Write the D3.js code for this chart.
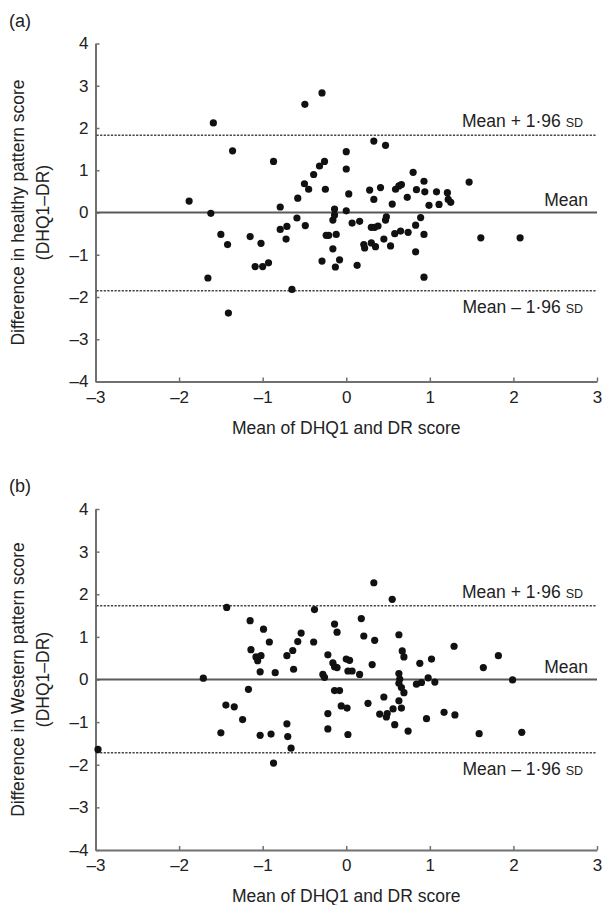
<!DOCTYPE html>
<meta charset="utf-8">
<meta name="viewport" content="width=device-width, initial-scale=1.0">

<!-- Load d3.js -->
<script src="https://d3js.org/d3.v7.min.js"></script>

<!-- Create a div where the graph will take place -->
<div id="my_dataviz"></div>

<style>
  body {
    margin:0;
    background:#fff;
  }
  text {
    font-family: "Liberation Sans", Arial, Helvetica, sans-serif;
    fill: #222;
  }
</style>

<script>

  var svgWidth = 602, svgHeight = 905;

  const xTicks = [-3, -2, -1, 0, 1, 2, 3];
  const yTicks = [-4, -3, -2, -1, 0, 1, 2, 3, 4];
  const panelLetters = ["(a)", "(b)"];
  const yTitles = ["Difference in healthy pattern score", "Difference in Western pattern score"];
  const yTitleSub = "(DHQ1–DR)";
  const xTitle = "Mean of DHQ1 and DR score";

  // [mean of both methods, difference]
  const healthyPoints = [
    [-1.88, 0.27], [-1.62, -0.02], [-1.59, 2.12], [-1.655, -1.55], [-1.50, -0.52], [-1.42, -0.76],
    [-1.41, -2.38], [-1.36, 1.46], [-1.15, -0.57], [-1.09, -1.28], [-1.02, -0.73], [-1.00, -1.28],
    [-0.93, -1.19], [-0.87, 1.21], [-0.79, 0.13], [-0.79, -0.40], [-0.72, -0.63], [-0.71, -0.33],
    [-0.65, -1.82], [-0.59, -0.13], [-0.58, 0.34], [-0.50, 0.68], [-0.495, 2.56], [-0.49, -0.31],
    [-0.45, 0.55], [-0.39, 0.90], [-0.32, 1.10], [-0.29, 2.83], [-0.29, -1.15], [-0.26, 1.21],
    [-0.25, 0.55], [-0.24, -0.54], [-0.21, -0.54], [-0.16, -0.86], [-0.16, -0.18], [-0.14, 0.08],
    [-0.14, -0.06], [-0.13, -1.29], [-0.12, -0.52], [-0.08, -1.12], [0.0, 1.44], [0.0, 1.03],
    [0.0, 0.04], [0.03, 0.44], [0.07, -0.25], [0.13, -1.25], [0.16, -0.21], [0.21, -0.76],
    [0.22, -0.84], [0.28, 0.53], [0.30, -0.72], [0.30, -0.35], [0.33, 1.69], [0.33, 0.31],
    [0.34, -0.35], [0.35, -0.81], [0.38, -0.32], [0.41, 0.59], [0.45, -0.63], [0.47, 1.59],
    [0.47, -0.18], [0.48, -0.10], [0.53, -0.79], [0.55, 0.20], [0.58, -0.50], [0.59, 0.55],
    [0.63, 0.63], [0.65, -0.44], [0.66, 0.66], [0.73, 0.36], [0.74, -0.47], [0.80, 0.95],
    [0.83, -0.30], [0.83, -0.93], [0.84, 0.54], [0.89, -0.12], [0.93, 0.74], [0.93, -0.52],
    [0.93, -1.53], [0.94, 0.49], [0.99, 0.17], [1.08, 0.49], [1.11, 0.19], [1.21, 0.47],
    [1.22, 0.31], [1.25, 0.24], [1.47, 0.72], [1.61, -0.60], [2.08, -0.60]
  ];

  const westernPoints = [
    [-2.97, -1.64], [-1.71, 0.03], [-1.50, -1.25], [-1.44, -0.60], [-1.43, 1.69], [-1.34, -0.64],
    [-1.24, -0.94], [-1.17, -0.23], [-1.15, 1.38], [-1.14, 0.70], [-1.08, 0.53], [-1.06, 0.44],
    [-1.03, 0.18], [-1.03, -1.31], [-1.02, 0.56], [-0.99, 1.18], [-0.92, 0.88], [-0.90, -1.28],
    [-0.87, -1.96], [-0.85, 0.16], [-0.71, 0.56], [-0.71, -1.04], [-0.70, -1.34], [-0.66, -1.61],
    [-0.64, 0.68], [-0.63, 0.24], [-0.58, 0.89], [-0.54, 1.09], [-0.39, 0.88], [-0.38, 1.64],
    [-0.28, 0.12], [-0.26, 0.05], [-0.22, 0.58], [-0.22, -0.80], [-0.22, -1.16], [-0.16, 0.39],
    [-0.14, 0.30], [-0.14, 1.30], [-0.14, -0.26], [-0.11, 0.28], [-0.11, 1.11], [-0.08, -0.26],
    [-0.06, -0.62], [0.0, 0.48], [0.01, -0.67], [0.02, 0.20], [0.02, -1.29], [0.04, 0.45],
    [0.07, 0.20], [0.16, 0.12], [0.18, 1.43], [0.21, 1.02], [0.26, -0.56], [0.31, 0.35],
    [0.33, 2.27], [0.34, 0.92], [0.40, -0.81], [0.45, -0.41], [0.48, -0.88], [0.49, -0.80],
    [0.55, 1.88], [0.56, -0.69], [0.58, -1.06], [0.63, 1.05], [0.63, 0.14], [0.63, -0.09],
    [0.63, -0.50], [0.64, 0.01], [0.66, -0.19], [0.66, -0.67], [0.67, 0.67], [0.69, 0.53],
    [0.69, -0.31], [0.74, -1.21], [0.84, -0.11], [0.88, 0.38], [0.90, -0.07], [0.96, -0.92],
    [0.98, 0.04], [1.02, 0.48], [1.06, -0.06], [1.17, -0.77], [1.29, 0.78], [1.30, -0.83],
    [1.59, -1.27], [1.64, 0.28], [1.82, 0.56], [1.99, -0.01], [2.10, -1.24]
  ];

  // upper limit, mean, lower limit
  const healthyLimits = [1.83, 0, -1.85];
  const westernLimits = [1.73, 0, -1.72];

  const axisGrey = "#707070";
  const fontFam = '"Liberation Sans", Arial, Helvetica, sans-serif';

  // layout for both panels
  const panels = [
    { letter: panelLetters[0], title: yTitles[0], points: healthyPoints, limits: healthyLimits, top: 43.5, bottom: 381.5, letterY: 27 },
    { letter: panelLetters[1], title: yTitles[1], points: westernPoints, limits: westernLimits, top: 509, bottom: 850, letterY: 492 }
  ];

  const x = d3.scaleLinear()
    .domain([-3, 3])
    .range([95.5, 597]);

  const fmt = d => d < 0 ? "–" + (-d) : d;

  const svg = d3.select("#my_dataviz")
    .append("svg")
    .attr("width", svgWidth)
    .attr("height", svgHeight);

  panels.forEach(function (p) {

    const y = d3.scaleLinear()
      .domain([-4, 4])
      .range([p.bottom, p.top]);

    const g = svg.append("g");

    // panel letter
    g.append("text")
      .attr("x", 9)
      .attr("y", p.letterY)
      .style("font-size", "18px")
      .text(p.letter);

    // y axis, ticks inside
    g.append("g")
      .attr("transform", `translate(${x(-3)},0)`)
      .call(d3.axisLeft(y).tickValues(yTicks).tickSizeInner(-4).tickSizeOuter(0).tickPadding(7).tickFormat(fmt))
      .attr("font-family", fontFam)
      .attr("font-size", 17)
      .call(a => a.select(".domain").attr("stroke", axisGrey).attr("stroke-width", 2))
      .call(a => a.selectAll(".tick line").attr("stroke", axisGrey).attr("stroke-width", 1.5))
      .call(a => a.selectAll(".tick text").attr("fill", "#222"));

    // x axis
    g.append("g")
      .attr("transform", `translate(0,${p.bottom})`)
      .call(d3.axisBottom(x).tickValues(xTicks).tickSizeInner(-4).tickSizeOuter(0).tickPadding(9).tickFormat(fmt))
      .attr("font-family", fontFam)
      .attr("font-size", 17)
      .call(a => a.select(".domain").attr("stroke", axisGrey).attr("stroke-width", 2))
      .call(a => a.selectAll(".tick line").attr("stroke", axisGrey).attr("stroke-width", 1.5))
      .call(a => a.selectAll(".tick text").attr("fill", "#222"));

    // axis titles
    g.append("text")
      .attr("transform", `translate(24,${y(0)}) rotate(-90)`)
      .attr("text-anchor", "middle")
      .style("font-size", "17.5px")
      .text(p.title);

    g.append("text")
      .attr("transform", `translate(49,${y(0)}) rotate(-90)`)
      .attr("text-anchor", "middle")
      .style("font-size", "17.5px")
      .text(yTitleSub);

    g.append("text")
      .attr("x", x(0))
      .attr("y", p.bottom + 52)
      .attr("text-anchor", "middle")
      .style("font-size", "17.5px")
      .text(xTitle);

    // mean and limits of agreement
    g.selectAll("line.limit")
      .data(p.limits)
      .join("line")
      .attr("class", "limit")
      .attr("x1", x(-3) + 1)
      .attr("x2", x(3))
      .attr("y1", d => y(d))
      .attr("y2", d => y(d))
      .attr("stroke", (d, i) => i === 1 ? "#5a5a5a" : "#444")
      .attr("stroke-width", (d, i) => i === 1 ? 1.8 : 1.5)
      .attr("stroke-dasharray", (d, i) => i === 1 ? null : "2.2,1.4");

    // labels for the lines
    const up = g.append("text")
      .attr("x", x(3) - 14)
      .attr("y", y(p.limits[0]) - 8)
      .attr("text-anchor", "end")
      .style("font-size", "17.5px")
      .text("Mean + 1·96 ");
    up.append("tspan").style("font-size", "12.5px").text("SD");

    g.append("text")
      .attr("x", x(3) - 9)
      .attr("y", y(p.limits[1]) - 7)
      .attr("text-anchor", "end")
      .style("font-size", "17.5px")
      .text("Mean");

    const low = g.append("text")
      .attr("x", x(3) - 14)
      .attr("y", y(p.limits[2]) + 22)
      .attr("text-anchor", "end")
      .style("font-size", "17.5px")
      .text("Mean – 1·96 ");
    low.append("tspan").style("font-size", "12.5px").text("SD");

    // the dots
    g.selectAll("circle")
      .data(p.points)
      .join("circle")
      .attr("cx", d => x(d[0]))
      .attr("cy", d => y(d[1]))
      .attr("r", 3.6)
      .attr("fill", "#111");
  });

</script>
